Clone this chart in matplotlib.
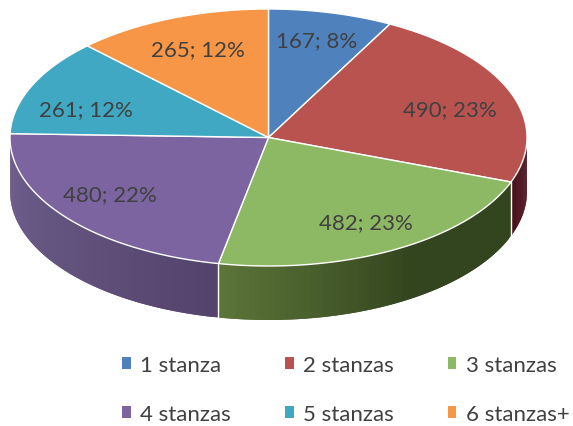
import numpy as np
import matplotlib
matplotlib.use("Agg")
import matplotlib.pyplot as plt
from matplotlib.collections import PolyCollection
from matplotlib.patches import Patch

categories = ["1 stanza", "2 stanzas", "3 stanzas", "4 stanzas", "5 stanzas", "6 stanzas+"]
values = [167, 490, 482, 480, 261, 265]
percents = [8, 23, 23, 22, 12, 12]
colors = ["#4f81bd", "#b9534f", "#8eb964", "#7b64a0", "#40a8c2", "#f79646"]
wall_start = ["#2a4568", "#4a101c", "#33451e", "#54446c", "#1f5a6a", "#8a5020"]
wall_end = ["#2a4568", "#4a101c", "#5c7539", "#70608f", "#1f5a6a", "#8a5020"]
label_pos = [(317, 41), (450, 110), (366, 223), (110, 195), (86, 110), (198, 50)]

W, H = 573, 427
cx, cy, rx, ry, depth = 268.5, 138.5, 258.5, 128.5, 54.0

fig = plt.figure(figsize=(W / 100, H / 100), dpi=100)
ax = fig.add_axes([0, 0, 1, 1])
ax.set_xlim(0, W)
ax.set_ylim(H, 0)
ax.axis("off")
plt.rcParams["font.family"] = ["Lato", "DejaVu Sans"]

def pt(t):
    return cx + rx * np.sin(t), cy - ry * np.cos(t)

def hex2rgb(c):
    return np.array(matplotlib.colors.to_rgb(c))

edges = np.concatenate([[0], np.cumsum(values)]) / np.sum(values) * 2 * np.pi

# side walls (front half only)
for i in range(len(values)):
    a, b = max(edges[i], np.pi / 2), min(edges[i + 1], 3 * np.pi / 2)
    if a >= b:
        continue
    ts = np.linspace(a, b, 60)
    polys, cols = [], []
    c0, c1 = hex2rgb(wall_start[i]), hex2rgb(wall_end[i])
    n = len(ts) - 1
    for k in range(n):
        t0, t1 = ts[k], ts[min(k + 2, n)]
        x0, y0 = pt(t0)
        x1, y1 = pt(t1)
        polys.append([(x0, y0), (x1, y1), (x1, y1 + depth), (x0, y0 + depth)])
        f = k / (n - 1)
        if i == 2:
            f = np.clip((f - 0.45) / 0.55, 0, 1)
        cols.append(c0 + (c1 - c0) * f)
    ax.add_collection(PolyCollection(polys, facecolors=cols, edgecolors="none", linewidths=0, zorder=1))

# wall divider lines
for e in edges:
    if np.pi / 2 < e < 3 * np.pi / 2:
        x, y = pt(e)
        ax.plot([x, x], [y, y + depth], color="white", lw=1.0, zorder=2)

# top surface
for i in range(len(values)):
    ts = np.linspace(edges[i], edges[i + 1], 120)
    xs, ys = pt(ts)
    ax.fill(np.r_[cx, xs], np.r_[cy, ys], facecolor=colors[i], edgecolor="white", lw=1.0, zorder=3, joinstyle="round")

for i, (x, y) in enumerate(label_pos):
    ax.text(x, y, f"{values[i]}; {percents[i]}%", ha="center", va="center",
            fontsize=16, color="#404040", zorder=5)

handles = [Patch(facecolor=c, edgecolor="none") for c in colors]
order = [0, 3, 1, 4, 2, 5]
leg = ax.legend([handles[i] for i in order], [categories[i] for i in order], ncol=3, frameon=False,
                loc="upper left", bbox_to_anchor=(122 / W, 1 - 356 / H), bbox_transform=fig.transFigure,
                borderpad=0, borderaxespad=0, fontsize=16, labelcolor="#404040",
                handlelength=0.4, handleheight=0.4, handletextpad=0.42,
                labelspacing=1.3, columnspacing=2.42)
fig.savefig("out.png", dpi=100, facecolor="white")
